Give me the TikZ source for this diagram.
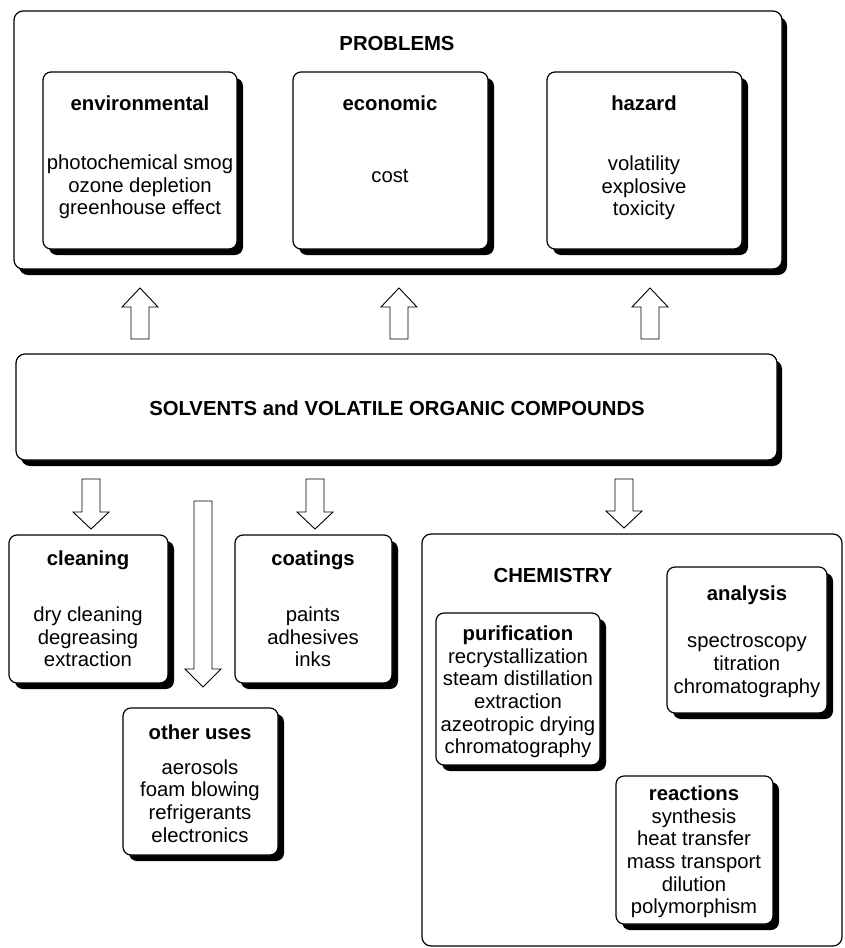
\documentclass[tikz,border=0pt]{standalone}
\usepackage{fontspec}
\setmainfont{Liberation Sans}
\usetikzlibrary{shadows}
\tikzset{
  txt/.style={font=\fontsize{20.3}{22.6}\selectfont, align=center, inner sep=0pt},
  ttl/.style={font=\fontsize{20.3}{22.6}\selectfont\bfseries, align=center, inner sep=0pt},
  box/.style={draw, line width=1.2pt, rounded corners=8pt, fill=white, inner sep=0pt,
    drop shadow={shadow xshift=6pt, shadow yshift=-6pt, opacity=1, fill=black}},
  bigbox/.style={draw, line width=1.2pt, rounded corners=9pt, fill=white, inner sep=0pt,
    drop shadow={shadow xshift=5pt, shadow yshift=-6pt, opacity=1, fill=black}},
  plainbox/.style={draw, line width=1.2pt, rounded corners=9pt, fill=white, inner sep=0pt},
  blockarrow/.style={draw, line width=0.9pt, fill=white, line join=miter},
}
% x, tail y, head-base y, tip y
\newcommand\blkarrow[4]{%
  \draw[blockarrow] (#1-9,#2) -- (#1-9,#3) -- (#1-18,#3) -- (#1,#4) -- (#1+18,#3) -- (#1+9,#3) -- (#1+9,#2) -- cycle;}
\begin{document}
\begin{tikzpicture}[x=1pt,y=-1pt]
\useasboundingbox (0,0) rectangle (844,948);

% PROBLEMS
\node[bigbox, minimum width=768pt, minimum height=258pt] (problems) at (398,140) {};
\node[ttl] (problemsT) at (397,44) {PROBLEMS};

\node[box, minimum width=194pt, minimum height=177pt] (env) at (140,160.5) {};
\node[ttl] (envT) at (140,103) {environmental};
\node[txt] (envB) at (140,187) {photochemical smog\\ozone depletion\\greenhouse effect};

\node[box, minimum width=195pt, minimum height=177pt] (eco) at (390.5,160.5) {};
\node[ttl] (ecoT) at (390,103) {economic};
\node[txt] (ecoB) at (390,176) {cost};

\node[box, minimum width=195pt, minimum height=177pt] (haz) at (644.5,160.5) {};
\node[ttl] (hazT) at (644,103) {hazard};
\node[txt] (hazB) at (644,188) {volatility\\explosive\\toxicity};

% SOLVENTS
\node[bigbox, minimum width=761pt, minimum height=106pt] (solv) at (396.5,407) {};
\node[ttl] (solvT) at (397,408) {SOLVENTS and VOLATILE ORGANIC COMPOUNDS};

% arrows up
\blkarrow{140}{339}{307}{288}
\blkarrow{399}{339}{307}{288}
\blkarrow{650}{339}{307}{288}

% arrows down
\blkarrow{91}{479}{512}{529}
\blkarrow{203}{501}{669}{687}
\blkarrow{315}{479}{512}{529}
\blkarrow{624}{479}{511}{528}

% cleaning
\node[box, minimum width=159pt, minimum height=148pt] (clean) at (88.5,609) {};
\node[ttl] (cleanT) at (88,560) {cleaning};
\node[txt] (cleanB) at (88,637) {dry cleaning\\degreasing\\extraction};

% coatings
\node[box, minimum width=157pt, minimum height=148pt] (coat) at (313.5,609) {};
\node[ttl] (coatT) at (313,560) {coatings};
\node[txt] (coatB) at (313,637) {paints\\adhesives\\inks};

% other uses
\node[box, minimum width=155pt, minimum height=147pt] (other) at (200.5,781.5) {};
\node[ttl] (otherT) at (200,732) {other uses};
\node[txt] (otherB) at (200,801) {aerosols\\foam blowing\\refrigerants\\electronics};

% CHEMISTRY
\node[plainbox, minimum width=420pt, minimum height=412pt] (chem) at (632,740) {};
\node[ttl] (chemT) at (553,576) {CHEMISTRY};

\node[box, minimum width=160pt, minimum height=146pt] (anal) at (747,640) {};
\node[ttl] (analT) at (747,595) {analysis};
\node[txt] (analB) at (747,666) {spectroscopy\\titration\\chromatography};

\node[box, minimum width=164pt, minimum height=152pt] (puri) at (518,689) {};
\node[txt] (puriB) at (518,692) {\textbf{purification}\\recrystallization\\steam distillation\\extraction\\azeotropic drying\\chromatography};

\node[box, minimum width=157pt, minimum height=148pt] (reac) at (694.5,850) {};
\node[txt] (reacB) at (694,852) {\textbf{reactions}\\synthesis\\heat transfer\\mass transport\\dilution\\polymorphism};
\end{tikzpicture}
\end{document}
